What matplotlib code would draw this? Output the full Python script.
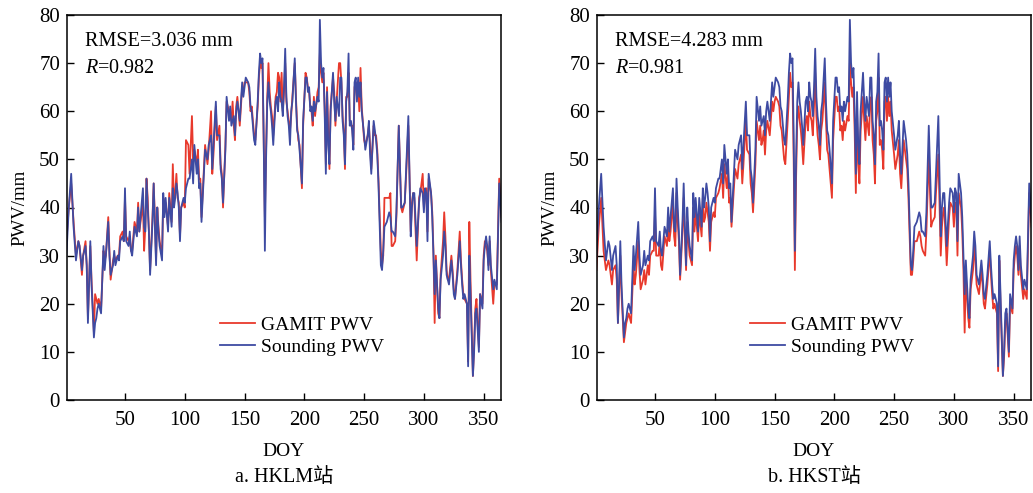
import matplotlib
matplotlib.use('Agg')
import matplotlib.pyplot as plt

# day of year of the read-off points (same days for all three series)
doy = [1, 3, 5, 7, 9, 11, 12, 14, 15, 17, 18, 19, 21, 22, 24, 25, 26, 27, 28, 30,
       32, 33, 34, 36, 37, 38, 40, 41, 42, 44, 45, 46, 48, 49, 50, 51, 53, 54, 55, 56,
       58, 60, 61, 62, 63, 65, 66, 67, 68, 69, 70, 71, 73, 74, 75, 76, 77, 78, 79, 81,
       82, 83, 84, 86, 87, 89, 90, 91, 92, 93, 94, 95, 96, 97, 99, 100, 101, 103, 104, 106,
       107, 108, 110, 111, 112, 113, 114, 116, 117, 119, 120, 122, 123, 124, 126, 127, 129, 130, 131, 132,
       134, 135, 137, 138, 139, 140, 141, 142, 143, 144, 146, 148, 149, 150, 151, 153, 154, 155, 156, 157,
       158, 159, 161, 162, 163, 164, 165, 166, 167, 168, 169, 170, 171, 172, 173, 174, 176, 177, 178, 179,
       180, 181, 182, 183, 184, 185, 186, 187, 188, 189, 190, 192, 193, 194, 195, 196, 198, 199, 201, 202,
       203, 204, 205, 206, 207, 208, 209, 211, 212, 213, 214, 215, 216, 217, 218, 219, 220, 221, 222, 224,
       225, 226, 227, 229, 230, 231, 232, 233, 234, 235, 236, 237, 238, 239, 240, 241, 242, 243, 244, 245,
       246, 247, 248, 250, 251, 253, 254, 255, 256, 258, 259, 260, 261, 262, 264, 265, 266, 267, 269, 271,
       272, 273, 274, 276, 277, 279, 281, 282, 284, 285, 287, 289, 290, 291, 292, 294, 296, 297, 299, 300,
       301, 302, 303, 304, 306, 307, 308, 309, 310, 312, 313, 314, 316, 317, 318, 319, 320, 321, 323, 324,
       325, 326, 328, 330, 331, 332, 333, 334, 336, 337, 338, 339, 341, 342, 343, 344, 346, 347, 349, 350,
       351, 352, 353, 354, 355, 356, 358, 359, 361, 363, 365]

# radiosonde PWV (mm), same sounding station in both panels
sounding = [30, 40, 47, 36, 29, 33, 32, 27, 30, 32, 28, 16, 33, 24, 13, 16, 17, 19, 20, 18,
            32, 27, 30, 37, 30, 26, 28, 31, 28, 30, 29, 33, 34, 33, 44, 33, 32, 35, 31, 30,
            36, 34, 40, 35, 38, 44, 36, 35, 46, 40, 35, 26, 37, 45, 36, 28, 40, 35, 32, 29,
            43, 38, 42, 35, 42, 36, 44, 40, 42, 45, 43, 40, 33, 40, 42, 41, 44, 46, 46, 50,
            45, 53, 47, 50, 44, 45, 37, 47, 52, 50, 53, 55, 48, 53, 62, 55, 55, 48, 46, 41,
            52, 63, 58, 61, 57, 58, 59, 55, 60, 62, 58, 66, 63, 65, 67, 66, 65, 61, 60, 57,
            54, 53, 62, 68, 72, 70, 71, 55, 31, 50, 62, 66, 62, 60, 57, 53, 62, 63, 60, 66,
            63, 62, 59, 65, 73, 63, 59, 57, 53, 60, 62, 71, 62, 56, 55, 52, 45, 58, 67, 67,
            64, 65, 60, 61, 58, 62, 60, 63, 62, 79, 70, 67, 69, 60, 47, 64, 53, 49, 60, 68,
            62, 58, 63, 59, 67, 67, 58, 55, 49, 62, 64, 72, 57, 58, 56, 52, 66, 67, 62, 67,
            63, 66, 60, 55, 52, 55, 58, 51, 47, 58, 56, 54, 51, 45, 28, 27, 31, 36, 37, 39,
            38, 35, 35, 34, 39, 57, 40, 40, 41, 47, 59, 34, 40, 43, 43, 32, 41, 44, 43, 39,
            44, 43, 33, 47, 43, 38, 30, 22, 29, 19, 17, 25, 30, 35, 32, 26, 25, 24, 29, 26,
            22, 21, 26, 33, 28, 24, 21, 22, 20, 7, 30, 22, 5, 10, 18, 19, 10, 22, 19, 29,
            32, 34, 32, 27, 34, 28, 23, 25, 23, 45, 37]

# GAMIT PWV (mm) at HKLM
gamit_hklm = [33, 40, 45, 37, 30, 33, 32, 26, 30, 33, 28, 17, 32, 25, 14, 22, 21, 20, 21, 19,
              31, 29, 30, 38, 31, 25, 29, 30, 29, 30, 30, 34, 35, 33, 42, 34, 33, 34, 31, 31,
              37, 35, 41, 35, 37, 41, 31, 36, 46, 42, 35, 27, 38, 45, 38, 29, 40, 36, 33, 30,
              42, 39, 41, 36, 43, 37, 49, 41, 43, 47, 42, 41, 34, 40, 41, 40, 54, 53, 47, 59,
              50, 52, 49, 52, 46, 46, 38, 48, 53, 49, 52, 60, 47, 51, 61, 54, 57, 49, 47, 40,
              53, 62, 60, 59, 58, 62, 57, 54, 61, 63, 57, 65, 64, 66, 66, 66, 64, 60, 61, 58,
              55, 54, 61, 67, 70, 69, 70, 54, 38, 52, 63, 70, 64, 61, 59, 55, 63, 64, 68, 67,
              62, 68, 60, 64, 70, 62, 60, 58, 56, 59, 63, 70, 63, 57, 54, 53, 44, 57, 68, 67,
              65, 64, 61, 60, 57, 63, 59, 64, 65, 72, 68, 66, 68, 61, 49, 65, 56, 48, 61, 67,
              64, 57, 62, 70, 70, 66, 59, 56, 48, 63, 63, 68, 58, 57, 57, 53, 65, 66, 63, 66,
              60, 69, 61, 54, 53, 55, 57, 53, 48, 57, 55, 55, 52, 46, 31, 28, 30, 42, 42, 42,
              43, 32, 32, 33, 38, 57, 40, 39, 41, 46, 57, 35, 41, 43, 42, 29, 42, 43, 47, 40,
              43, 44, 35, 46, 43, 39, 31, 16, 30, 18, 17, 26, 33, 39, 34, 27, 25, 25, 30, 27,
              23, 21, 27, 35, 29, 25, 22, 21, 20, 8, 37, 25, 5, 11, 19, 21, 11, 22, 20, 30,
              33, 32, 31, 28, 33, 27, 20, 24, 24, 46, 38]

# GAMIT PWV (mm) at HKST
gamit_hkst = [27, 36, 42, 31, 27, 29, 28, 24, 27, 28, 25, 16, 30, 22, 12, 14, 16, 17, 18, 16,
              28, 24, 26, 33, 27, 23, 25, 27, 24, 28, 26, 30, 31, 31, 39, 30, 30, 33, 28, 27,
              34, 32, 37, 33, 35, 41, 34, 32, 43, 37, 33, 25, 35, 42, 34, 27, 37, 33, 30, 28,
              40, 35, 39, 33, 39, 34, 42, 37, 38, 41, 39, 37, 31, 37, 39, 38, 42, 43, 44, 47,
              42, 49, 44, 47, 41, 42, 36, 44, 48, 46, 49, 51, 45, 49, 58, 52, 51, 45, 43, 39,
              49, 58, 54, 57, 53, 54, 56, 51, 56, 58, 55, 62, 60, 62, 63, 62, 61, 57, 56, 53,
              50, 49, 58, 63, 68, 65, 66, 50, 27, 46, 58, 61, 58, 56, 53, 49, 58, 59, 56, 62,
              59, 58, 55, 61, 68, 59, 55, 53, 50, 56, 58, 66, 58, 52, 51, 48, 42, 54, 63, 63,
              60, 61, 56, 57, 54, 58, 56, 59, 58, 70, 66, 63, 65, 56, 43, 60, 49, 45, 56, 63,
              58, 54, 59, 55, 62, 63, 54, 51, 45, 58, 60, 67, 53, 54, 52, 48, 62, 63, 58, 63,
              59, 62, 56, 51, 48, 51, 54, 47, 44, 54, 52, 50, 48, 42, 26, 26, 29, 33, 33, 35,
              34, 32, 31, 30, 35, 51, 36, 37, 38, 43, 51, 30, 36, 39, 40, 28, 38, 41, 40, 36,
              41, 40, 30, 43, 40, 35, 27, 14, 26, 17, 15, 23, 27, 32, 29, 24, 23, 22, 27, 24,
              20, 19, 24, 31, 26, 22, 19, 20, 18, 6, 29, 20, 5, 9, 16, 18, 9, 20, 18, 27,
              30, 32, 30, 26, 32, 26, 21, 23, 21, 43, 36]

panels = [
    ('a. HKLM站', 'RMSE=3.036 mm', '0.982', gamit_hklm),
    ('b. HKST站', 'RMSE=4.283 mm', '0.981', gamit_hkst),
]

red = '#e8392c'
blue = '#3e4ba2'
plt.rcParams['font.family'] = ['Liberation Serif', 'DejaVu Serif']
plt.rcParams['mathtext.fontset'] = 'custom'
plt.rcParams['mathtext.it'] = 'Liberation Serif:italic'
plt.rcParams['mathtext.rm'] = 'Liberation Serif'

fig = plt.figure(figsize=(10.33, 4.93), dpi=100)
W, H = 1033, 493
lefts = [67, 597]

for (caption, rmse, r, gamit), x0 in zip(panels, lefts):
    ax = fig.add_axes([x0 / W, (H - 400) / H, 434 / W, 385 / H])
    ax.plot(doy, gamit, color=red, lw=1.3, label='GAMIT PWV')
    ax.plot(doy, sounding, color=blue, lw=1.3, label='Sounding PWV')
    ax.set_xlim(1.5, 364.5)
    ax.set_ylim(0, 80)
    ax.set_xticks([50, 100, 150, 200, 250, 300, 350])
    ax.set_yticks(range(0, 81, 10))
    ax.tick_params(direction='in', length=5, width=1, labelsize=15,
                   top=False, right=False)
    ax.tick_params(axis='x', pad=8)
    ax.tick_params(axis='y', pad=5)
    for s in ax.spines.values():
        s.set_linewidth(1.1)
    ax.set_ylabel('PWV/mm', fontsize=13.5, labelpad=8)
    ax.set_xlabel('DOY', fontsize=14, labelpad=9)
    ax.text(0.042, 0.955, rmse, transform=ax.transAxes, fontsize=14.5,
            va='top', ha='left')
    ax.text(0.042, 0.885, '$R$=' + r, transform=ax.transAxes, fontsize=14.5,
            va='top', ha='left')
    ax.legend(loc='lower left', bbox_to_anchor=(0.33, 0.09), frameon=False,
              fontsize=14, handlelength=1.8, handletextpad=0.3,
              labelspacing=0.2, borderpad=0)
    fig.text((x0 + 217) / W, (H - 478) / H, caption, fontsize=14.5,
             ha='center', va='center',
             family=['Liberation Serif', 'Noto Sans CJK SC'])

fig.savefig('out.png', dpi=100)
